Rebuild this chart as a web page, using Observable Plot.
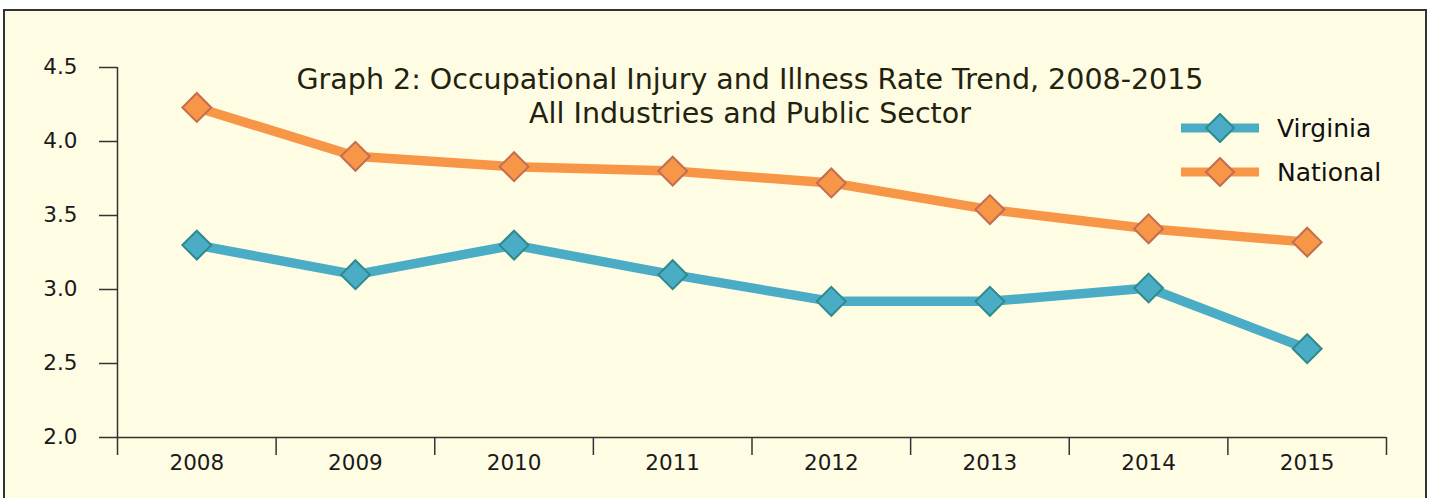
<!DOCTYPE html>
<html><head><meta charset="utf-8">
<script src="https://cdn.jsdelivr.net/npm/d3@7"></script>
<script src="https://cdn.jsdelivr.net/npm/@observablehq/plot@0.6"></script>
<style>
body{margin:0;width:1432px;height:498px;overflow:hidden;background:#fff;font-family:"DejaVu Sans",Verdana,sans-serif;}
#frame{position:absolute;left:3px;top:9px;width:1420px;height:520px;border:2px solid #333;background:#FEFCE3;}
#chart{position:absolute;left:0;top:0;}
.title{position:absolute;left:0;width:1500px;text-align:center;font-size:28.5px;line-height:34px;color:#22220F;white-space:nowrap;}
.leg{position:absolute;left:1178px;height:30px;display:flex;align-items:center;font-size:25px;color:#111;}
.leg svg{margin-right:17px;}
</style></head><body>
<div id="frame"></div>
<div id="chart"></div>
<div class="title" style="top:63px;">Graph 2: Occupational Injury and Illness Rate Trend, 2008-2015</div>
<div class="title" style="top:97px;">All Industries and Public Sector</div>
<div id="legend"></div>
<script>
const years = [2008, 2009, 2010, 2011, 2012, 2013, 2014, 2015];
const virginia = [3.3, 3.1, 3.3, 3.1, 2.92, 2.92, 3.01, 2.6];
const national = [4.23, 3.9, 3.83, 3.8, 3.72, 3.54, 3.41, 3.32];
const yTicks = [2.0, 2.5, 3.0, 3.5, 4.0, 4.5];
const seriesNames = ["Virginia", "National"];
const fills = {Virginia: "#4BACC6", National: "#F79646"};
const strokes = {Virginia: "#2E8A8C", National: "#C36D52"};

const vData = years.map((y, i) => ({year: y, value: virginia[i]}));
const nData = years.map((y, i) => ({year: y, value: national[i]}));
const bounds = [...years.map(y => y - 0.5), years[years.length - 1] + 0.5];

const chart = Plot.plot({
  width: 1432, height: 498,
  marginLeft: 117, marginRight: 46, marginTop: 67, marginBottom: 61,
  style: {background: "transparent", fontFamily: "DejaVu Sans, Verdana, sans-serif", fontSize: "21.5px", color: "#1a1a1a"},
  x: {domain: [bounds[0], bounds[bounds.length - 1]], label: null},
  y: {domain: [2, 4.5], label: null},
  marks: [
    Plot.ruleY([2], {stroke: "#333", strokeWidth: 1.5}),
    Plot.ruleX([bounds[0]], {y1: 2, y2: 4.5, stroke: "#333", strokeWidth: 1.5}),
    Plot.axisY(yTicks, {tickSize: 18, tickPadding: 22, tickFormat: d3.format(".1f"), stroke: "#333", strokeWidth: 1.5, fill: "#1a1a1a", fontSize: 21.5, label: null}),
    Plot.axisX(bounds, {tickSize: 18, tickFormat: () => "", stroke: "#333", strokeWidth: 1.5, label: null}),
    Plot.axisX(years, {tickSize: 0, tickPadding: 17, tickFormat: d => String(d), fill: "#1a1a1a", fontSize: 21.5, label: null}),
    Plot.line(nData, {x: "year", y: "value", stroke: fills.National, strokeWidth: 9.5}),
    Plot.line(vData, {x: "year", y: "value", stroke: fills.Virginia, strokeWidth: 9.5}),
    Plot.dot(nData, {x: "year", y: "value", symbol: "diamond2", r: 13, fill: fills.National, stroke: strokes.National, strokeWidth: 2}),
    Plot.dot(vData, {x: "year", y: "value", symbol: "diamond2", r: 13, fill: fills.Virginia, stroke: strokes.Virginia, strokeWidth: 2})
  ]
});
document.getElementById("chart").appendChild(chart);

const legend = document.getElementById("legend");
const tops = {Virginia: 113, National: 157};
for (const name of seriesNames) {
  const row = document.createElement("div");
  row.className = "leg";
  row.style.top = tops[name] + "px";
  row.innerHTML = `<svg width="82" height="30"><line x1="3" x2="81" y1="15" y2="15" stroke="${fills[name]}" stroke-width="9"/><path d="M42,1 L56,15 L42,29 L28,15 Z" fill="${fills[name]}" stroke="${strokes[name]}" stroke-width="2"/></svg><span>${name}</span>`;
  legend.appendChild(row);
}
</script>
</body></html>
